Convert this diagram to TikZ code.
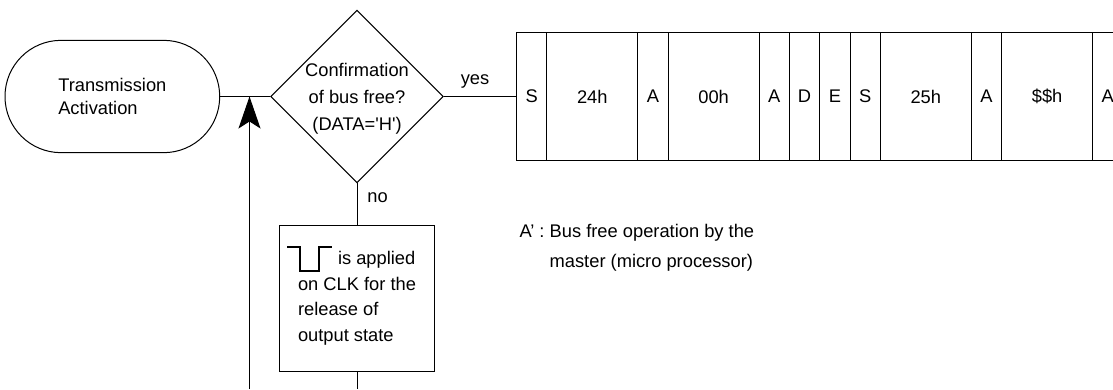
\documentclass[tikz,border=0pt]{standalone}
\usepackage{fontspec}
\setmainfont{Liberation Sans}
\usetikzlibrary{shapes.geometric, positioning, arrows.meta}

\begin{document}
\begin{tikzpicture}[> = {Stealth[length = 32pt, width = 22pt, inset = 7pt]}, x = 1pt, y = 1pt, line width = 1pt,
	every node/.style = {font = \fontsize{18.3}{22}\selectfont},
	terminal/.style = {draw, rectangle, rounded corners = 56, minimum width = 214.7, minimum height = 112.3, align = left},
	decision/.style = {draw, diamond, minimum width = 172.6, minimum height = 172.7, inner sep = 0pt},
	process/.style = {draw, minimum width = 155, minimum height = 145.7, align = left},
	cell/.style = {draw, minimum height = 128, inner sep = 0pt, outer sep = 0pt},
	narrow/.style = {cell, minimum width = 30.3},
	wide/.style = {cell, minimum width = 91}]

	\useasboundingbox (0, 0) rectangle (1113, -389);
	\clip (0, 0) rectangle (1113, -389);

	% Flow chart

	\node [decision] (check) at (357, -96.5) {};
	\node [align = center, yshift = -2] (checktext) at (check) {Confirmation\\[5pt]of bus free?\\[5pt](DATA=\textquotesingle H\textquotesingle)};
	\node [terminal, left = 50 of check] (start) {Transmission\\[1pt]Activation};
	\node [process, below = 41.6 of check] (release) {\hspace*{40pt}is applied\\[3.7pt]on CLK for the\\[3.7pt]release of\\[3.7pt]output state};

	% Packet

	\node [narrow, right = 72.7 of check] (c1) {S};
	\foreach \txt/\kind [count = \i from 2, remember = \i as \prev (initially 1)] in {24h/wide, A/narrow, 00h/wide, A/narrow, D/narrow, E/narrow, S/narrow, 25h/wide, A/narrow, \$\$h/wide, A/narrow}
		\node [\kind, right = 0 of c\prev] (c\i) {\txt};

	% Connectors

	\coordinate (join) at (249.5, -96.5);
	\coordinate (loop) at (249.5, -389);
	\coordinate (releaseend) at (release.south |- loop);
	\draw (start) -- (check);
	\draw (check) -- node [above = 4.5, pos = 0.43] (yes) {yes} (c1);
	\draw (check) -- node [right = 6.5, pos = 0.34] (no) {no} (release);
	\draw (release) -- (releaseend);
	\draw [->] (loop) -- (join);

	% Pulse

	\draw [line width = 2] (release.north west) ++(8, -21.6) -- ++(13, 0) -- ++(0, -24) -- ++(19, 0) -- ++(0, 24) -- ++(12.7, 0);

	% Note

	\node [anchor = west, inner sep = 0, font = \fontsize{18.3}{30}\selectfont] (note) at (519, -246) {\begin{tabular}{@{}l@{\ }l@{}} A’ : & Bus free operation by the\\ & master (micro processor)\end{tabular}};

\end{tikzpicture}
\end{document}
